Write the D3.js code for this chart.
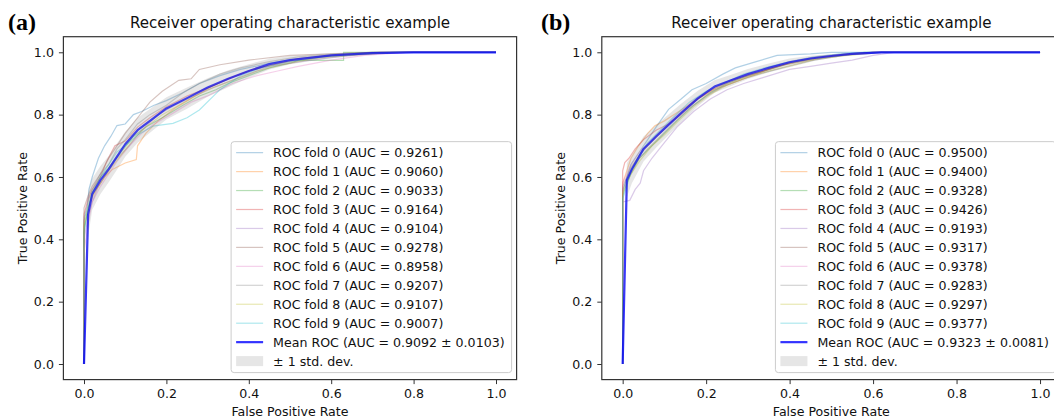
<!DOCTYPE html>
<html>
<head>
<meta charset="utf-8">
<script src="https://cdn.jsdelivr.net/npm/d3@7"></script>
<style>
  body { margin: 0; background: #fff; }
  text { font-family: "DejaVu Sans", sans-serif; fill: #111; }
</style>
</head>
<body>
<div id="chart"></div>
<script>
// ---- data ----
var tickValues = [0, 0.2, 0.4, 0.6, 0.8, 1.0];
var foldColors = ["#1f77b4", "#ff7f0e", "#2ca02c", "#d62728", "#9467bd",
                  "#8c564b", "#e377c2", "#7f7f7f", "#bcbd22", "#17becf"];

// panel (a)
var aucA = ["0.9261", "0.9060", "0.9033", "0.9164", "0.9104", "0.9278", "0.8958", "0.9207", "0.9107", "0.9007"];
var meanAucA = "0.9092 \u00b1 0.0103";
var foldsA = [
  [[0,0],[0,0.46],[0.008,0.5],[0.012,0.56],[0.02,0.6],[0.035,0.66],[0.05,0.7],[0.065,0.73],[0.08,0.765],[0.1,0.77],[0.12,0.8],[0.14,0.81],[0.17,0.83],[0.2,0.845],[0.24,0.87],[0.28,0.9],[0.33,0.925],[0.38,0.945],[0.45,0.965],[0.52,0.98],[0.6,0.99],[0.7,1],[1,1]],
  [[0,0],[0,0.44],[0.01,0.49],[0.015,0.52],[0.03,0.56],[0.05,0.6],[0.07,0.625],[0.1,0.645],[0.127,0.656],[0.13,0.7],[0.15,0.74],[0.18,0.78],[0.22,0.82],[0.27,0.86],[0.31,0.89],[0.36,0.92],[0.42,0.95],[0.5,0.97],[0.58,0.985],[0.68,0.995],[0.78,1],[1,1]],
  [[0,0],[0,0.42],[0.01,0.5],[0.02,0.55],[0.04,0.6],[0.06,0.63],[0.09,0.68],[0.12,0.73],[0.15,0.76],[0.19,0.79],[0.24,0.83],[0.28,0.86],[0.32,0.88],[0.35,0.9],[0.4,0.925],[0.45,0.95],[0.5,0.965],[0.52,0.974],[0.63,0.974],[0.63,1],[1,1]],
  [[0,0],[0,0.48],[0.01,0.53],[0.02,0.56],[0.04,0.6],[0.055,0.65],[0.075,0.7],[0.1,0.715],[0.13,0.76],[0.16,0.79],[0.2,0.825],[0.25,0.86],[0.3,0.885],[0.35,0.915],[0.4,0.94],[0.46,0.96],[0.52,0.98],[0.6,0.99],[0.72,1],[1,1]],
  [[0,0],[0,0.4],[0.01,0.47],[0.02,0.52],[0.035,0.57],[0.05,0.6],[0.08,0.66],[0.11,0.7],[0.14,0.75],[0.18,0.8],[0.22,0.83],[0.26,0.855],[0.3,0.88],[0.35,0.905],[0.4,0.93],[0.45,0.955],[0.55,0.975],[0.65,0.99],[0.75,1],[1,1]],
  [[0,0],[0,0.5],[0.01,0.54],[0.02,0.57],[0.04,0.61],[0.06,0.66],[0.08,0.7],[0.1,0.74],[0.13,0.79],[0.16,0.84],[0.19,0.875],[0.23,0.91],[0.26,0.915],[0.28,0.945],[0.33,0.96],[0.4,0.975],[0.5,0.99],[0.6,0.995],[0.7,1],[1,1]],
  [[0,0],[0,0.36],[0.01,0.45],[0.02,0.52],[0.04,0.57],[0.06,0.61],[0.08,0.65],[0.11,0.7],[0.14,0.74],[0.17,0.77],[0.21,0.8],[0.26,0.84],[0.3,0.86],[0.36,0.9],[0.42,0.925],[0.47,0.94],[0.52,0.955],[0.6,0.975],[0.68,0.99],[0.78,1],[1,1]],
  [[0,0],[0,0.47],[0.01,0.52],[0.02,0.56],[0.04,0.61],[0.06,0.64],[0.08,0.69],[0.1,0.72],[0.13,0.77],[0.16,0.8],[0.2,0.83],[0.24,0.87],[0.28,0.9],[0.33,0.93],[0.38,0.95],[0.45,0.97],[0.52,0.985],[0.62,0.995],[0.7,1],[1,1]],
  [[0,0],[0,0.45],[0.01,0.5],[0.02,0.54],[0.04,0.58],[0.06,0.62],[0.09,0.67],[0.12,0.72],[0.15,0.76],[0.19,0.8],[0.23,0.83],[0.27,0.86],[0.32,0.89],[0.37,0.915],[0.42,0.94],[0.48,0.96],[0.56,0.98],[0.64,0.99],[0.75,1],[1,1]],
  [[0,0],[0,0.43],[0.01,0.5],[0.02,0.55],[0.04,0.6],[0.06,0.64],[0.08,0.68],[0.1,0.7],[0.13,0.735],[0.167,0.763],[0.216,0.772],[0.25,0.79],[0.28,0.815],[0.33,0.88],[0.38,0.925],[0.43,0.95],[0.5,0.97],[0.58,0.985],[0.68,0.995],[0.76,1],[1,1]]
];
var meanFprA = [0, 0.01, 0.02, 0.04, 0.06, 0.08, 0.1, 0.13, 0.16, 0.2, 0.25, 0.3, 0.35, 0.4, 0.45, 0.5, 0.6, 0.7, 0.8, 1];
var meanTprA = [0, 0.48, 0.545, 0.59, 0.625, 0.665, 0.705, 0.75, 0.78, 0.82, 0.853, 0.887, 0.915, 0.94, 0.962, 0.975, 0.99, 0.997, 1.0, 1.0];
var stdTprA  = [0, 0.07, 0.05, 0.045, 0.042, 0.042, 0.04, 0.04, 0.038, 0.036, 0.034, 0.03, 0.027, 0.022, 0.017, 0.013, 0.008, 0.003, 0, 0];

// panel (b)
var aucB = ["0.9500", "0.9400", "0.9328", "0.9426", "0.9193", "0.9317", "0.9378", "0.9283", "0.9297", "0.9377"];
var meanAucB = "0.9323 \u00b1 0.0081";
var foldsB = [
  [[0,0],[0,0.55],[0.01,0.6],[0.02,0.64],[0.04,0.68],[0.06,0.72],[0.08,0.76],[0.11,0.817],[0.14,0.85],[0.166,0.88],[0.2,0.9],[0.24,0.93],[0.27,0.95],[0.32,0.97],[0.37,0.99],[0.45,0.995],[0.5,1],[1,1]],
  [[0,0],[0,0.58],[0.01,0.62],[0.02,0.66],[0.038,0.7],[0.06,0.74],[0.077,0.764],[0.1,0.78],[0.14,0.815],[0.18,0.85],[0.22,0.88],[0.27,0.905],[0.32,0.93],[0.37,0.955],[0.42,0.97],[0.48,0.985],[0.55,0.995],[0.6,1],[1,1]],
  [[0,0],[0,0.54],[0.01,0.58],[0.02,0.61],[0.04,0.66],[0.07,0.7],[0.1,0.74],[0.13,0.78],[0.17,0.83],[0.21,0.87],[0.25,0.9],[0.3,0.925],[0.35,0.945],[0.4,0.965],[0.46,0.98],[0.52,0.99],[0.58,1],[1,1]],
  [[0,0],[0,0.62],[0.005,0.646],[0.015,0.66],[0.03,0.69],[0.05,0.72],[0.08,0.75],[0.11,0.77],[0.14,0.8],[0.18,0.85],[0.22,0.885],[0.26,0.91],[0.31,0.93],[0.36,0.95],[0.41,0.97],[0.47,0.985],[0.54,0.995],[0.6,1],[1,1]],
  [[0,0],[0,0.52],[0.017,0.525],[0.03,0.56],[0.042,0.58],[0.05,0.62],[0.07,0.66],[0.1,0.71],[0.13,0.76],[0.17,0.81],[0.21,0.85],[0.25,0.88],[0.29,0.9],[0.334,0.918],[0.4,0.945],[0.45,0.955],[0.5,0.965],[0.55,0.975],[0.6,0.99],[0.65,1],[1,1]],
  [[0,0],[0,0.57],[0.01,0.6],[0.02,0.63],[0.04,0.67],[0.06,0.7],[0.09,0.74],[0.12,0.78],[0.16,0.83],[0.2,0.87],[0.24,0.895],[0.29,0.92],[0.34,0.94],[0.39,0.96],[0.45,0.975],[0.52,0.99],[0.6,1],[1,1]],
  [[0,0],[0,0.58],[0.01,0.61],[0.02,0.64],[0.04,0.68],[0.07,0.72],[0.1,0.76],[0.13,0.8],[0.17,0.845],[0.21,0.88],[0.25,0.905],[0.3,0.93],[0.35,0.95],[0.4,0.97],[0.46,0.985],[0.53,0.995],[0.6,1],[1,1]],
  [[0,0],[0,0.56],[0.01,0.59],[0.02,0.62],[0.04,0.66],[0.06,0.69],[0.09,0.73],[0.12,0.77],[0.16,0.82],[0.2,0.86],[0.24,0.89],[0.29,0.915],[0.34,0.935],[0.4,0.955],[0.46,0.975],[0.53,0.99],[0.62,1],[1,1]],
  [[0,0],[0,0.55],[0.01,0.58],[0.02,0.61],[0.04,0.65],[0.07,0.7],[0.1,0.735],[0.13,0.775],[0.17,0.825],[0.21,0.865],[0.25,0.895],[0.3,0.92],[0.35,0.94],[0.41,0.96],[0.47,0.98],[0.54,0.99],[0.62,1],[1,1]],
  [[0,0],[0,0.53],[0.01,0.57],[0.02,0.62],[0.04,0.67],[0.06,0.71],[0.09,0.75],[0.12,0.79],[0.16,0.84],[0.2,0.875],[0.24,0.9],[0.29,0.93],[0.34,0.95],[0.4,0.97],[0.46,0.985],[0.52,0.995],[0.58,1],[1,1]]
];
var meanFprB = [0, 0.01, 0.022, 0.05, 0.08, 0.1, 0.14, 0.18, 0.22, 0.26, 0.3, 0.35, 0.4, 0.45, 0.5, 0.55, 0.62, 1];
var meanTprB = [0, 0.59, 0.625, 0.69, 0.73, 0.755, 0.805, 0.852, 0.89, 0.91, 0.93, 0.95, 0.968, 0.98, 0.988, 0.995, 1, 1];
var stdTprB  = [0, 0.055, 0.045, 0.04, 0.036, 0.034, 0.03, 0.025, 0.02, 0.018, 0.016, 0.014, 0.012, 0.009, 0.006, 0.003, 0, 0];

// ---- drawing ----
var width = 1054, height = 420;
var fontSize = 12.6;

var svg = d3.select("#chart").append("svg")
  .attr("width", width)
  .attr("height", height);

function drawPanel(p)
{
  var x = d3.scaleLinear().domain([-0.05, 1.05]).range([p.left, p.right]);
  var y = d3.scaleLinear().domain([-0.05, 1.05]).range([379.6, 36.7]);
  var g = svg.append("g");

  var line = d3.line()
    .x(function(d) { return x(d[0]); })
    .y(function(d) { return y(d[1]); });

  // folds
  p.folds.forEach(function(f, i) {
    g.append("path")
      .attr("d", line(f))
      .attr("fill", "none")
      .attr("stroke", foldColors[i])
      .attr("stroke-opacity", 0.35)
      .attr("stroke-width", 1.2);
  });

  // mean curve
  var mean = p.meanFpr.map(function(v, i) { return [v, p.meanTpr[i]]; });
  g.append("path")
    .attr("d", line(mean))
    .attr("fill", "none")
    .attr("stroke", "#0000ff")
    .attr("stroke-opacity", 0.8)
    .attr("stroke-width", 2.2)
    .attr("stroke-linejoin", "round");

  // +/- 1 std band
  var area = d3.area()
    .x(function(d, i) { return x(p.meanFpr[i]); })
    .y0(function(d, i) { return y(Math.max(p.meanTpr[i] - p.std[i], 0)); })
    .y1(function(d, i) { return y(Math.min(p.meanTpr[i] + p.std[i], 1)); });
  g.append("path")
    .attr("d", area(p.meanFpr))
    .attr("fill", "grey")
    .attr("fill-opacity", 0.2);

  // axes
  var xAxis = g.append("g")
    .attr("transform", "translate(0," + y(-0.05) + ")")
    .call(d3.axisBottom(x).tickValues(tickValues).tickFormat(d3.format(".1f"))
      .tickSize(4.5).tickSizeOuter(0).tickPadding(5));
  var yAxis = g.append("g")
    .attr("transform", "translate(" + x(-0.05) + ",0)")
    .call(d3.axisLeft(y).tickValues(tickValues).tickFormat(d3.format(".1f"))
      .tickSize(4.5).tickSizeOuter(0).tickPadding(5));
  [xAxis, yAxis].forEach(function(a) {
    a.select(".domain").remove();
    a.selectAll("line").attr("stroke", "#333");
    a.selectAll("text").attr("font-size", fontSize).attr("font-family", "DejaVu Sans").attr("fill", "#111");
  });

  g.append("rect")
    .attr("x", x(-0.05))
    .attr("y", y(1.05))
    .attr("width", x(1.05) - x(-0.05))
    .attr("height", y(-0.05) - y(1.05))
    .attr("fill", "none")
    .attr("stroke", "#333")
    .attr("stroke-width", 1.2);

  // texts
  var cx = (x(-0.05) + x(1.05)) / 2;
  g.append("text")
    .text("Receiver operating characteristic example")
    .attr("x", cx).attr("y", 28)
    .attr("text-anchor", "middle")
    .attr("font-size", 15.1);

  g.append("text")
    .text("False Positive Rate")
    .attr("x", cx).attr("y", 416)
    .attr("text-anchor", "middle")
    .attr("font-size", fontSize);

  g.append("text")
    .text("True Positive Rate")
    .attr("transform", "translate(" + (x(-0.05) - 36.5) + "," + (y(-0.05) + y(1.05)) / 2 + ") rotate(-90)")
    .attr("text-anchor", "middle")
    .attr("font-size", fontSize);

  g.append("text")
    .text(p.label)
    .attr("x", p.labelX).attr("y", 30)
    .attr("font-weight", "bold")
    .attr("font-size", 24)
    .style("font-family", "'Liberation Serif', 'Times New Roman', serif")
    .style("fill", "#000");

  // legend
  var labels = p.auc.map(function(a, i) { return "ROC fold " + i + " (AUC = " + a + ")"; });
  labels.push("Mean ROC (AUC = " + p.meanAuc + ")");
  labels.push("\u00b1 1 std. dev.");

  var rowH = 18.95;
  var legH = 11 * rowH + 22.5;
  var leg = g.append("g");
  var box = leg.append("rect")
    .attr("rx", 3).attr("ry", 3)
    .attr("fill", "#fff").attr("fill-opacity", 0.8)
    .attr("stroke", "#ccc").attr("stroke-width", 1);

  var texts = [];
  labels.forEach(function(l) {
    texts.push(leg.append("text").text(l).attr("font-size", fontSize));
  });
  var maxLen = d3.max(texts, function(t) { return t.node().getComputedTextLength(); });
  var legW = 42 + maxLen + 7;
  var legRight = x(1.05) - 5;
  var legLeft = legRight - legW;
  var legBottom = y(-0.05) - 7;
  var legTop = legBottom - legH;
  box.attr("x", legLeft).attr("y", legTop).attr("width", legW).attr("height", legH);

  texts.forEach(function(t, i) {
    var cy = legTop + 11 + i * rowH;
    t.attr("x", legLeft + 42).attr("y", cy).attr("dy", "0.36em");
    if (i < 10) {
      leg.append("line")
        .attr("x1", legLeft + 5).attr("x2", legLeft + 32)
        .attr("y1", cy).attr("y2", cy)
        .attr("stroke", foldColors[i]).attr("stroke-opacity", 0.35).attr("stroke-width", 1.2);
    } else if (i == 10) {
      leg.append("line")
        .attr("x1", legLeft + 5).attr("x2", legLeft + 32)
        .attr("y1", cy).attr("y2", cy)
        .attr("stroke", "#0000ff").attr("stroke-opacity", 0.8).attr("stroke-width", 2.2);
    } else {
      leg.append("rect")
        .attr("x", legLeft + 5).attr("y", cy - 5)
        .attr("width", 27).attr("height", 10)
        .attr("fill", "grey").attr("fill-opacity", 0.2);
    }
  });
}

drawPanel({label: "(a)", labelX: 8, left: 63.4, right: 516.6,
  folds: foldsA, auc: aucA, meanAuc: meanAucA,
  meanFpr: meanFprA, meanTpr: meanTprA, std: stdTprA});

drawPanel({label: "(b)", labelX: 541, left: 601.8, right: 1060.9,
  folds: foldsB, auc: aucB, meanAuc: meanAucB,
  meanFpr: meanFprB, meanTpr: meanTprB, std: stdTprB});
</script>
</body>
</html>
